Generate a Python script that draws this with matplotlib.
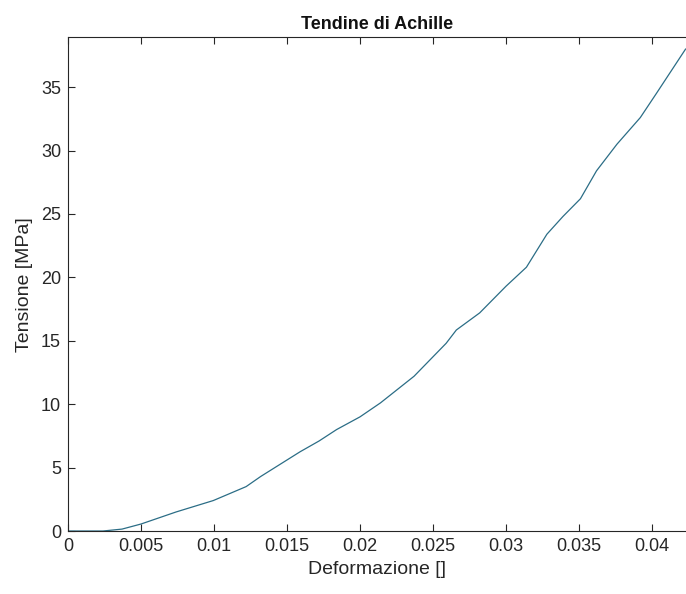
import matplotlib
matplotlib.use('Agg')
import matplotlib.pyplot as plt

# strain [-] vs stress [MPa]
deformazione = [0, 0.0024, 0.0037, 0.005, 0.0074, 0.00995, 0.0122, 0.0132, 0.015,
                0.0159, 0.0172, 0.0184, 0.0200, 0.0214, 0.0237, 0.0259, 0.0266,
                0.0282, 0.0300, 0.0314, 0.0321, 0.0328, 0.0339, 0.0351, 0.0362,
                0.0376, 0.0392, 0.0403, 0.0423]
tensione = [0, 0, 0.15, 0.55, 1.5, 2.4, 3.5, 4.3, 5.6,
            6.25, 7.1, 8.0, 9.0, 10.1, 12.2, 14.8, 15.85,
            17.2, 19.3, 20.8, 22.1, 23.4, 24.8, 26.2, 28.4,
            30.5, 32.6, 34.5, 38.0]

xticks = [0, 0.005, 0.01, 0.015, 0.02, 0.025, 0.03, 0.035, 0.04]
xticklabels = ['0', '0.005', '0.01', '0.015', '0.02', '0.025', '0.03', '0.035', '0.04']
yticks = [0, 5, 10, 15, 20, 25, 30, 35]

plt.rcParams['font.family'] = ['Liberation Sans', 'DejaVu Sans']

fig = plt.figure(figsize=(6.86, 5.94), dpi=100)
ax = fig.add_axes([68 / 686, 63 / 594, 1 - 68 / 686, (531 - 37.3) / 594])

ax.plot(deformazione, tensione, color='#2b6d86', linewidth=0.9)

ax.set_xlim(0, 0.04233)
ax.set_ylim(0, 38.93)
ax.set_xticks(xticks)
ax.set_xticklabels(xticklabels)
ax.set_yticks(yticks)

ax.spines['right'].set_visible(False)
for s in ['left', 'top', 'bottom']:
    ax.spines[s].set_color('#262626')
    ax.spines[s].set_linewidth(0.8)
ax.tick_params(direction='in', length=5, width=0.8, color='#262626',
               labelcolor='#262626', labelsize=13, top=True, pad=5)

ax.set_xlabel('Deformazione []', fontsize=14, color='#262626', labelpad=4)
ax.set_ylabel('Tensione [MPa]', fontsize=14, color='#262626', labelpad=6)
ax.set_title('Tendine di Achille', fontsize=13, fontweight='bold', color='#111111', pad=6)

fig.savefig('out.png', dpi=100)
